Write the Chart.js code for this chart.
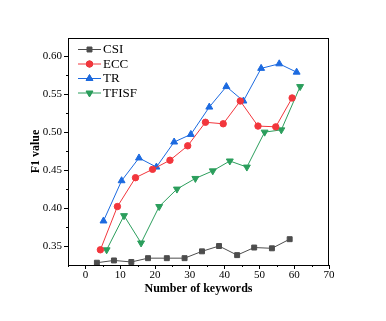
<!DOCTYPE html>
<html>
<head>
<meta charset="utf-8">
<script src="https://cdn.jsdelivr.net/npm/chart.js@4"></script>
<style>
  html, body { margin: 0; padding: 0; background: #fff; }
  #wrap { width: 386px; height: 321px; position: relative; }
</style>
</head>
<body>
<div id="wrap"><canvas id="f1Chart"></canvas></div>
<script>
// F1 value vs number of keywords
const seriesNames = ['CSI', 'ECC', 'TR', 'TFISF'];
const csiX = [3.3, 8.2, 13.2, 18.0, 23.4, 28.5, 33.5, 38.4, 43.6, 48.5, 53.6, 58.7];
const csiY = [0.328, 0.331, 0.329, 0.334, 0.334, 0.334, 0.343, 0.350, 0.338, 0.348, 0.347, 0.359];
const eccX = [4.3, 9.2, 14.4, 19.3, 24.3, 29.4, 34.5, 39.6, 44.5, 49.6, 54.7, 59.4];
const eccY = [0.345, 0.402, 0.440, 0.451, 0.463, 0.482, 0.513, 0.511, 0.541, 0.508, 0.507, 0.545];
const trX = [5.2, 10.4, 15.4, 20.4, 25.5, 30.3, 35.6, 40.5, 45.4, 50.5, 55.7, 60.7];
const trY = [0.383, 0.436, 0.466, 0.454, 0.487, 0.497, 0.533, 0.560, 0.541, 0.584, 0.590, 0.579];
const tfX = [6.1, 11.1, 16.0, 21.2, 26.3, 31.6, 36.6, 41.5, 46.4, 51.5, 56.3, 61.7];
const tfY = [0.345, 0.390, 0.354, 0.402, 0.425, 0.439, 0.449, 0.462, 0.454, 0.500, 0.503, 0.560];

const xTicks = [0, 10, 20, 30, 40, 50, 60, 70];
const yTicks = [0.35, 0.40, 0.45, 0.50, 0.55, 0.60];
const xTitle = 'Number of keywords';
const yTitle = 'F1 value';

const SERIF = '"Liberation Serif", "Times New Roman", serif';

function toPoints(xs, ys) {
  return xs.map((x, i) => ({ x: x, y: ys[i] }));
}

function makeSet(label, xs, ys, color, style, radius, rotation) {
  return {
    label: label,
    data: toPoints(xs, ys),
    borderColor: color,
    backgroundColor: color,
    borderWidth: 1,
    pointStyle: style,
    pointRotation: rotation || 0,
    pointRadius: radius,
    pointBorderWidth: 1,
    tension: 0
  };
}

// frame, minor ticks, axis titles and inside legend
const decorations = {
  id: 'decorations',
  afterDraw(chart) {
    const ctx = chart.ctx;
    const area = chart.chartArea;
    const xs = chart.scales.x;
    const ys = chart.scales.y;
    ctx.save();
    ctx.strokeStyle = '#000';
    ctx.lineWidth = 1;
    ctx.strokeRect(area.left + 0.5, area.top + 0.5, area.right - area.left - 1, area.bottom - area.top);

    // minor ticks
    ctx.beginPath();
    for (let v = -5; v <= 70; v += 10) {
      const px = Math.round(xs.getPixelForValue(v)) + 0.5;
      ctx.moveTo(px, area.bottom);
      ctx.lineTo(px, area.bottom + 2);
    }
    for (let v = 0.375; v < 0.62; v += 0.05) {
      const py = Math.round(ys.getPixelForValue(v)) + 0.5;
      ctx.moveTo(area.left, py);
      ctx.lineTo(area.left - 2, py);
    }
    ctx.stroke();

    // axis titles
    ctx.fillStyle = '#000';
    ctx.font = 'bold 12px ' + SERIF;
    ctx.textAlign = 'center';
    ctx.textBaseline = 'middle';
    ctx.fillText(xTitle, (area.left + area.right) / 2, 289);
    ctx.translate(36, (area.top + area.bottom) / 2);
    ctx.rotate(-Math.PI / 2);
    ctx.fillText(yTitle, 0, 0);
    ctx.restore();

    // legend
    ctx.save();
    ctx.font = '13px ' + SERIF;
    ctx.textBaseline = 'middle';
    ctx.textAlign = 'left';
    chart.data.datasets.forEach((ds, i) => {
      const y = 49.5 + i * 14.5;
      const x0 = 78, x1 = 101;
      ctx.strokeStyle = ds.borderColor;
      ctx.lineWidth = 1;
      ctx.beginPath();
      ctx.moveTo(x0, y);
      ctx.lineTo(x1, y);
      ctx.stroke();
      Chart.helpers.drawPoint(ctx, {
        pointStyle: ds.pointStyle,
        rotation: ds.pointRotation,
        radius: ds.pointRadius,
        borderWidth: 1
      }, (x0 + x1) / 2, y);
      ctx.fillStyle = ds.borderColor;
      ctx.fill();
      ctx.fillStyle = '#000';
      ctx.fillText(ds.label, 103, y + 0.5);
    });
    ctx.restore();
  }
};

new Chart(document.getElementById('f1Chart'), {
  type: 'line',
  data: {
    datasets: [
      makeSet(seriesNames[0], csiX, csiY, '#4d4d4d', 'rect', 3.5),
      makeSet(seriesNames[1], eccX, eccY, '#f2363c', 'circle', 3.2),
      makeSet(seriesNames[2], trX, trY, '#1c6ae0', 'triangle', 4),
      makeSet(seriesNames[3], tfX, tfY, '#2b9e5c', 'triangle', 4, 180)
    ]
  },
  options: {
    responsive: true,
    maintainAspectRatio: false,
    animation: false,
    layout: { padding: { top: 38, right: 57, left: 0, bottom: 0 } },
    plugins: {
      legend: { display: false },
      tooltip: { enabled: false }
    },
    scales: {
      x: {
        type: 'linear',
        min: -5,
        max: 70,
        afterBuildTicks: scale => { scale.ticks = xTicks.map(v => ({ value: v })); },
        afterFit: scale => { scale.height = 56; },
        grid: { drawOnChartArea: false, drawTicks: true, tickLength: 4, color: '#000' },
        border: { display: true, color: '#000', width: 1 },
        ticks: {
          color: '#000',
          padding: 0,
          maxRotation: 0,
          font: { family: SERIF, size: 11 },
          callback: v => String(v)
        }
      },
      y: {
        type: 'linear',
        min: 0.325,
        max: 0.624,
        afterBuildTicks: scale => { scale.ticks = yTicks.map(v => ({ value: v })); },
        afterFit: scale => { scale.width = 68; },
        grid: { drawOnChartArea: false, drawTicks: true, tickLength: 4, color: '#000' },
        border: { display: true, color: '#000', width: 1 },
        ticks: {
          color: '#000',
          padding: 2,
          font: { family: SERIF, size: 11 },
          callback: v => v.toFixed(2)
        }
      }
    }
  },
  plugins: [decorations]
});
</script>
</body>
</html>
